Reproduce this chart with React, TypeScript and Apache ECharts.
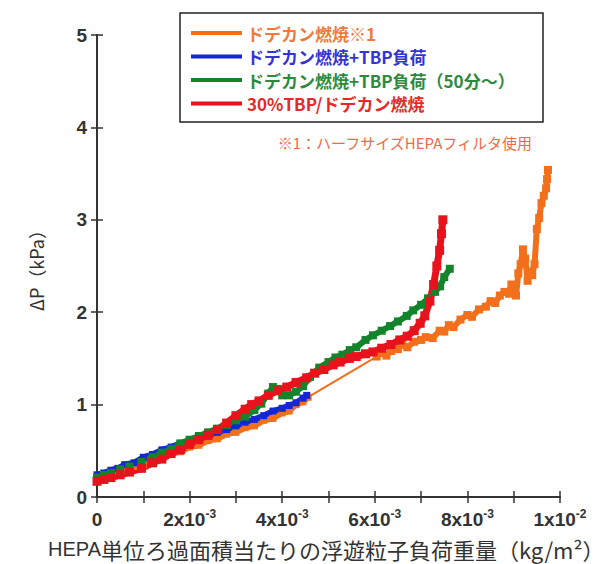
import React, { useEffect, useRef } from "react";
import * as echarts from "echarts";

// x values are in units of 10^-3 kg/m², y values in kPa
const seriesNames = [
  "ドデカン燃焼※1",
  "ドデカン燃焼+TBP負荷",
  "ドデカン燃焼+TBP負荷（50分～）",
  "30%TBP/ドデカン燃焼",
];
const seriesColors = ["#f2701c", "#1426d6", "#14842c", "#e8121c"];
const legendTextColors = ["#f07a3a", "#3434d4", "#2c8a3c", "#e42a2a"];

const yTickLabels = ["0", "1", "2", "3", "4", "5"];
const xTickBase = ["0", "2x10", "4x10", "6x10", "8x10", "1x10"];
const xTickExp = ["", "-3", "-3", "-3", "-3", "-2"];

const noteText = "※1：ハーフサイズHEPAフィルタ使用";
const xAxisTitleLatin = "HEPA";
const xAxisTitleRest = "単位ろ過面積当たりの浮遊粒子負荷重量（kg/m²）";
const yAxisTitle = "ΔP（kPa）";

// dodecane combustion, half-size filter: first stretch, gap, second stretch
const orangeA = [
  [0, 0.19], [0.15, 0.22], [0.3, 0.23], [0.45, 0.27], [0.6, 0.28], [0.8, 0.33],
  [1.0, 0.35], [1.2, 0.4], [1.4, 0.42], [1.6, 0.47], [1.8, 0.49], [2.0, 0.54],
  [2.2, 0.56], [2.4, 0.61], [2.6, 0.63], [2.8, 0.68], [3.0, 0.7], [3.2, 0.75],
  [3.4, 0.77], [3.6, 0.83], [3.8, 0.85], [4.0, 0.91], [4.15, 0.93], [4.3, 1.0],
  [4.45, 1.03], [4.56, 1.08],
];
const orangeGap = [[4.56, 1.08], [6.04, 1.52]];
const orangeB = [
  [6.04, 1.52], [6.15, 1.56], [6.25, 1.53], [6.35, 1.58], [6.5, 1.6], [6.6, 1.65],
  [6.7, 1.62], [6.85, 1.68], [7.0, 1.7], [7.1, 1.73], [7.25, 1.72], [7.4, 1.8],
  [7.5, 1.79], [7.6, 1.86], [7.7, 1.84], [7.85, 1.92], [8.0, 1.97], [8.1, 1.95],
  [8.25, 2.03], [8.4, 2.06], [8.5, 2.12], [8.6, 2.1], [8.7, 2.18], [8.8, 2.22],
  [8.9, 2.2], [8.95, 2.3], [9.0, 2.26], [9.05, 2.18], [9.1, 2.42], [9.15, 2.52],
  [9.2, 2.68], [9.25, 2.58], [9.3, 2.34], [9.35, 2.44], [9.4, 2.4], [9.45, 2.52],
  [9.5, 2.9], [9.55, 3.02], [9.6, 3.18], [9.65, 3.26], [9.7, 3.34], [9.72, 3.44],
  [9.74, 3.54],
];
const blueData = [
  [0, 0.24], [0.15, 0.26], [0.3, 0.29], [0.45, 0.31], [0.6, 0.35], [0.8, 0.37],
  [1.0, 0.43], [1.2, 0.46], [1.4, 0.51], [1.6, 0.54], [1.8, 0.58], [2.0, 0.6],
  [2.2, 0.64], [2.4, 0.66], [2.6, 0.7], [2.8, 0.73], [3.0, 0.77], [3.2, 0.81],
  [3.4, 0.84], [3.6, 0.88], [3.8, 0.93], [4.0, 0.96], [4.15, 0.99], [4.3, 1.02],
  [4.45, 1.07], [4.53, 1.1],
];
const greenData = [
  [0, 0.21], [0.15, 0.24], [0.3, 0.26], [0.5, 0.3], [0.7, 0.33], [0.96, 0.38],
  [1.2, 0.43], [1.4, 0.48], [1.6, 0.52], [1.8, 0.58], [2.0, 0.62], [2.2, 0.66],
  [2.4, 0.7], [2.6, 0.74], [2.8, 0.78], [3.0, 0.83], [3.2, 0.87], [3.4, 0.94],
  [3.55, 1.01], [3.7, 1.12], [3.8, 1.19], [3.9, 1.17], [4.0, 1.1], [4.15, 1.1],
  [4.3, 1.14], [4.45, 1.2], [4.6, 1.3], [4.8, 1.4], [5.0, 1.46], [5.15, 1.51],
  [5.3, 1.54], [5.46, 1.59], [5.6, 1.62], [5.8, 1.7], [5.96, 1.75], [6.15, 1.8],
  [6.33, 1.85], [6.5, 1.9], [6.69, 1.96], [6.83, 2.02], [7.0, 2.08], [7.15, 2.15],
  [7.3, 2.22], [7.41, 2.28], [7.5, 2.38], [7.62, 2.47],
];
const redData = [
  [0, 0.17], [0.15, 0.19], [0.3, 0.21], [0.5, 0.24], [0.7, 0.27], [0.96, 0.31],
  [1.2, 0.37], [1.4, 0.41], [1.6, 0.47], [1.8, 0.51], [2.0, 0.57], [2.2, 0.62],
  [2.4, 0.67], [2.6, 0.73], [2.8, 0.8], [3.0, 0.88], [3.2, 0.95], [3.34, 1.0],
  [3.5, 1.04], [3.7, 1.1], [3.9, 1.15], [4.1, 1.19], [4.3, 1.24], [4.53, 1.29],
  [4.7, 1.34], [4.9, 1.38], [5.1, 1.43], [5.25, 1.46], [5.45, 1.5], [5.6, 1.52],
  [5.8, 1.55], [5.96, 1.57], [6.15, 1.61], [6.35, 1.65], [6.54, 1.7], [6.7, 1.74],
  [6.85, 1.8], [6.98, 1.88], [7.08, 1.96], [7.19, 2.12], [7.27, 2.3], [7.34, 2.5],
  [7.4, 2.67], [7.44, 2.85], [7.47, 3.0],
];

const FONT = "'Liberation Sans', Arial, 'Noto Sans CJK JP', sans-serif";
const NARROW = "'Liberation Sans Narrow', 'Liberation Sans', Arial, sans-serif";
const CJK = "'Noto Sans CJK JP', 'Liberation Sans', sans-serif";
const AXIS = "#333";

// thick measured trace, drawn as a line with small square markers so the band looks jagged
function lineSeries(name: string, data: number[][], color: string, width: number, marker: number) {
  return {
    name,
    type: "line",
    data,
    showSymbol: marker > 0,
    symbol: marker > 0 ? "rect" : "none",
    symbolSize: marker,
    smooth: false,
    lineStyle: { color, width, join: "round", cap: "round" },
    itemStyle: { color, borderWidth: 0 },
    xAxisIndex: 0,
    yAxisIndex: 0,
  };
}

export default function App() {
  const ref = useRef<HTMLDivElement>(null);

  useEffect(() => {
    if (!ref.current) return;
    const chart = echarts.init(ref.current, null, { renderer: "svg" });

    const tickCommon = {
      show: true,
      inside: true,
      length: 6,
      lineStyle: { color: AXIS, width: 1.5 },
    };
    const lineCommon = { show: true, lineStyle: { color: AXIS, width: 1.8 } };

    chart.setOption({
      animation: false,
      backgroundColor: "#fff",
      grid: { left: 97, right: 52, top: 35, bottom: 67, containLabel: false },
      xAxis: [
        {
          type: "value",
          min: 0,
          max: 10,
          interval: 1,
          position: "bottom",
          axisLine: lineCommon,
          axisTick: tickCommon,
          splitLine: { show: false },
          axisLabel: {
            margin: 11,
            formatter: (v: number) => {
              const n = Math.round(v);
              if (n % 2) return "";
              const i = n / 2;
              if (!xTickExp[i]) return `{b|${xTickBase[i]}}`;
              return `{b|${xTickBase[i]}}{s|${xTickExp[i]}}`;
            },
            rich: {
              b: { fontSize: 19, fontWeight: "bold", color: AXIS, fontFamily: FONT, lineHeight: 22 },
              s: { fontSize: 12, fontWeight: "bold", color: AXIS, fontFamily: FONT, verticalAlign: "top", lineHeight: 22 },
            },
          },
        },
        {
          type: "value",
          min: 0,
          max: 10,
          interval: 1,
          position: "top",
          axisLine: lineCommon,
          axisTick: tickCommon,
          splitLine: { show: false },
          axisLabel: { show: false },
        },
      ],
      yAxis: [
        {
          type: "value",
          min: 0,
          max: 5,
          interval: 1,
          position: "left",
          axisLine: lineCommon,
          axisTick: tickCommon,
          splitLine: { show: false },
          axisLabel: {
            margin: 10,
            fontSize: 19,
            fontWeight: "bold",
            color: AXIS,
            fontFamily: FONT,
            formatter: (v: number) => yTickLabels[Math.round(v)] ?? "",
          },
          name: yAxisTitle,
          nameLocation: "middle",
          nameGap: 52,
          nameTextStyle: { fontSize: 18, color: AXIS, fontFamily: CJK },
        },
        {
          type: "value",
          min: 0,
          max: 5,
          interval: 1,
          position: "right",
          axisLine: lineCommon,
          axisTick: tickCommon,
          splitLine: { show: false },
          axisLabel: { show: false },
        },
      ],
      legend: {
        orient: "vertical",
        left: 191,
        top: 23,
        padding: 0,
        itemGap: 3.5,
        itemWidth: 51,
        itemHeight: 4,
        icon: "rect",
        z: 20,
        selectedMode: false,
        textStyle: { fontSize: 17, fontWeight: "bold", fontFamily: CJK, lineHeight: 20 },
        data: seriesNames.map((name, i) => ({
          name,
          icon: "rect",
          itemStyle: { color: seriesColors[i] },
          textStyle: { color: legendTextColors[i] },
        })),
      },
      graphic: [
        {
          type: "rect",
          z: 10,
          shape: { x: 180, y: 13, width: 363, height: 109 },
          style: { fill: "#fff", stroke: "#222", lineWidth: 1.5 },
        },
        {
          type: "text",
          z: 10,
          x: 532,
          y: 142,
          style: {
            text: noteText,
            fontSize: 15,
            fontFamily: CJK,
            fill: "#f06a48",
            align: "right",
            verticalAlign: "middle",
          },
        },
        {
          // x-axis title, left-anchored under the axis
          type: "text",
          z: 10,
          x: 48,
          y: 549,
          style: {
            text: `{a|${xAxisTitleLatin}}{c|${xAxisTitleRest}}`,
            align: "left",
            verticalAlign: "middle",
            rich: {
              a: { fontSize: 20, fontFamily: NARROW, fill: AXIS, lineHeight: 22 },
              c: { fontSize: 22, fontFamily: CJK, fill: AXIS, lineHeight: 22 },
            },
          },
        },
      ],
      series: [
        lineSeries(seriesNames[0], orangeA, seriesColors[0], 6, 7),
        lineSeries(seriesNames[0], orangeGap, seriesColors[0], 2, 0),
        lineSeries(seriesNames[0], orangeB, seriesColors[0], 6, 8),
        lineSeries(seriesNames[1], blueData, seriesColors[1], 6, 7),
        lineSeries(seriesNames[2], greenData, seriesColors[2], 6, 8),
        lineSeries(seriesNames[3], redData, seriesColors[3], 7, 9),
      ],
    });

    return () => chart.dispose();
  }, []);

  return <div ref={ref} style={{ width: 612, height: 564, position: "absolute", left: 0, top: 0 }} />;
}
